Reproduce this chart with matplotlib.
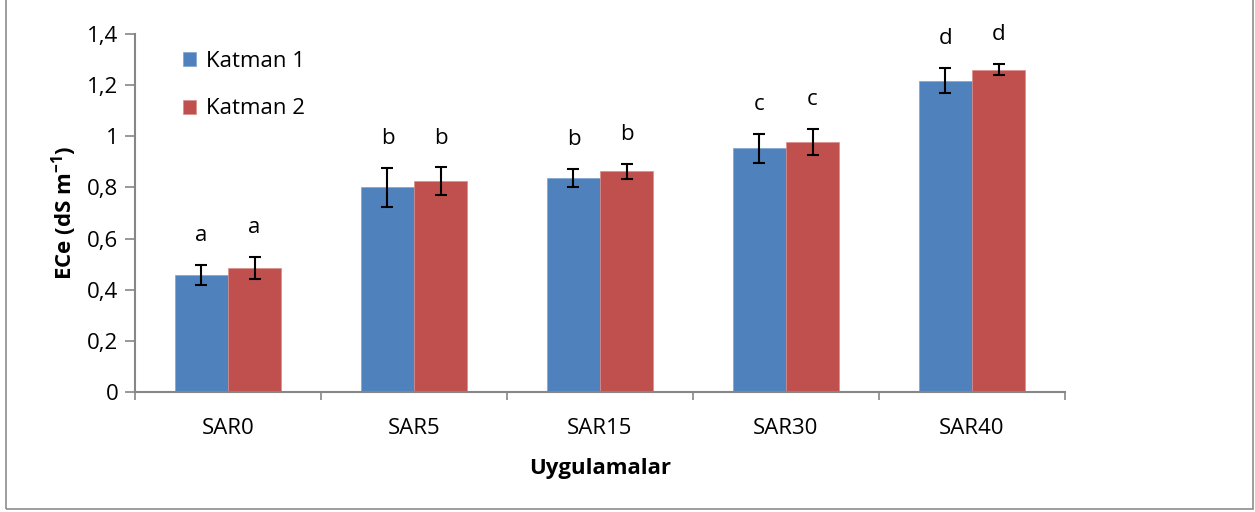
import numpy as np
import matplotlib
matplotlib.use("Agg")
import matplotlib.pyplot as plt
from matplotlib.ticker import FuncFormatter, FixedLocator
from matplotlib.patches import Rectangle

plt.rcParams["font.family"] = ["Open Sans", "DejaVu Sans"]
plt.rcParams["mathtext.fontset"] = "custom"
plt.rcParams["mathtext.rm"] = "Open Sans:bold"
plt.rcParams["mathtext.bf"] = "Open Sans:bold"

categories = ["SAR0", "SAR5", "SAR15", "SAR30", "SAR40"]
katman1 = [0.457, 0.800, 0.837, 0.953, 1.218]
katman1_err = [0.040, 0.075, 0.036, 0.057, 0.050]
katman2 = [0.485, 0.825, 0.863, 0.978, 1.261]
katman2_err = [0.043, 0.053, 0.030, 0.052, 0.022]
letters1 = ["a", "b", "b", "c", "d"]
letters2 = ["a", "b", "b", "c", "d"]

BLUE, RED = "#4F81BD", "#C0504D"
AXIS = "#868686"
FS = 16

fig = plt.figure(figsize=(12.55, 5.12), dpi=100)
fig.patches.append(Rectangle((6 / 1255, 3 / 512), 1247 / 1255, 520 / 512, transform=fig.transFigure,
                             fill=False, edgecolor="#8c8c8c", lw=1.2))
ax = fig.add_axes([135 / 1255, 1 - 392 / 512, 930 / 1255, 358 / 512])

x = np.arange(len(categories))
w = 0.285
err_kw = dict(ecolor="black", elinewidth=1.5, capsize=4.5, capthick=1.5)
ax.bar(x - w / 2, katman1, w, yerr=katman1_err, color=BLUE, label="Katman 1",
       edgecolor="#7fa3d1", linewidth=0.5, error_kw=err_kw)
ax.bar(x + w / 2, katman2, w, yerr=katman2_err, color=RED, label="Katman 2",
       edgecolor="#d98c8a", linewidth=0.5, error_kw=err_kw)

# significance letters above the error bars
for i in range(len(categories)):
    ax.text(x[i] - w / 2, katman1[i] + katman1_err[i] + 0.115, letters1[i],
            ha="center", va="center", fontsize=FS)
    ax.text(x[i] + w / 2, katman2[i] + katman2_err[i] + 0.115, letters2[i],
            ha="center", va="center", fontsize=FS)

ax.set_xlim(-0.5, len(categories) - 0.5)
ax.set_ylim(0, 1.4)
ax.set_yticks(np.arange(0, 1.41, 0.2))
ax.yaxis.set_major_formatter(FuncFormatter(lambda v, p: f"{round(v, 1):g}".replace(".", ",")))
ax.set_xticks(x)
ax.set_xticklabels(categories)
ax.xaxis.set_minor_locator(FixedLocator(np.arange(-0.5, len(categories), 1.0)))
ax.tick_params(axis="x", which="major", length=0, pad=18.5, labelsize=FS)
ax.tick_params(axis="x", which="minor", length=6, width=1.2, color=AXIS)
ax.tick_params(axis="y", length=7, width=1.2, color=AXIS, labelsize=FS, pad=5)

for s in ["top", "right"]:
    ax.spines[s].set_visible(False)
for s in ["left", "bottom"]:
    ax.spines[s].set_color(AXIS)
    ax.spines[s].set_linewidth(1.5)

ax.set_ylabel("ECe (dS m$^{\\mathrm{-1}}$)", fontsize=FS, fontweight="bold", labelpad=6)
ax.set_xlabel("Uygulamalar", fontsize=FS, fontweight="bold", labelpad=14)

ax.legend(loc="upper left", bbox_to_anchor=(0.03, 1.009), frameon=False, fontsize=FS,
          handlelength=0.6, handleheight=0.6, labelspacing=1.2, handletextpad=0.45)

fig.savefig("out.png", dpi=100)
